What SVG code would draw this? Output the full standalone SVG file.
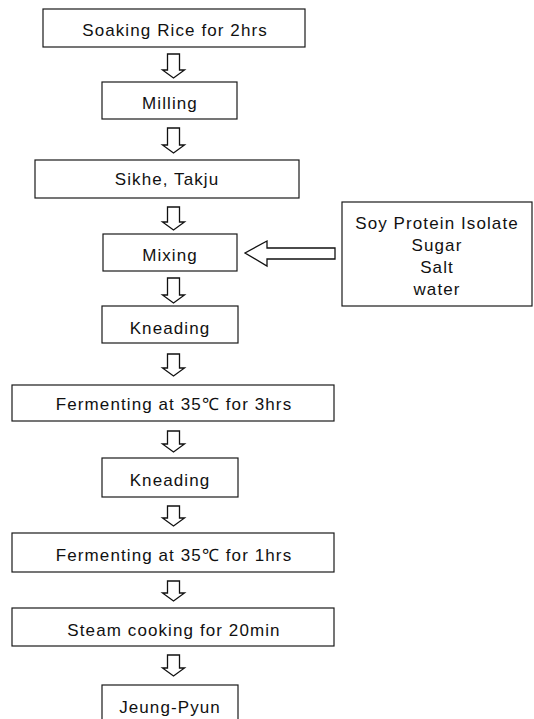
<svg xmlns="http://www.w3.org/2000/svg" width="534" height="719" viewBox="0 0 534 719">
<style>
.box{fill:#fff;stroke:#1a1a1a;stroke-width:1.2}
.t{font-family:"Liberation Sans",Arial,sans-serif;font-size:17px;letter-spacing:1.1px;fill:#111;text-anchor:middle}
.arr{fill:#fff;stroke:#111;stroke-width:1.3;stroke-linejoin:miter}
</style>
<rect width="534" height="719" fill="#fff"/>
<g id="connectors">
<path class="arr" d="M167.5,54H179.5V70H184.5L173.5,78L162.5,70H167.5Z"/>
<path class="arr" d="M167.5,128H179.5V145H184.5L173.5,153L162.5,145H167.5Z"/>
<path class="arr" d="M167.5,207H179.5V222H184.5L173.5,230L162.5,222H167.5Z"/>
<path class="arr" d="M167.5,278H179.5V295H184.5L173.5,303L162.5,295H167.5Z"/>
<path class="arr" d="M167.5,354H179.5V368H184.5L173.5,376L162.5,368H167.5Z"/>
<path class="arr" d="M167.5,431H179.5V444H184.5L173.5,452L162.5,444H167.5Z"/>
<path class="arr" d="M167.5,506H179.5V518H184.5L173.5,526L162.5,518H167.5Z"/>
<path class="arr" d="M167.5,581H179.5V593H184.5L173.5,601L162.5,593H167.5Z"/>
<path class="arr" d="M167.5,655H179.5V668H184.5L173.5,676L162.5,668H167.5Z"/>
<path class="arr" d="M335,248V259H267V266L245,253L267,241V248Z"/>
</g>
<g id="soaking"><rect class="box" x="43" y="9" width="262" height="38"/><text class="t" x="175" y="36">Soaking Rice for 2hrs</text></g>
<g id="milling"><rect class="box" x="102" y="82" width="135" height="37"/><text class="t" x="170" y="109">Milling</text></g>
<g id="sikhe"><rect class="box" x="35" y="160" width="264" height="38"/><text class="t" x="167" y="185">Sikhe, Takju</text></g>
<g id="mixing"><rect class="box" x="103" y="234" width="134" height="37"/><text class="t" x="170" y="261">Mixing</text></g>
<g id="ingredients"><rect class="box" x="342" y="202" width="190" height="104"/>
<text class="t" x="437" y="229">Soy Protein Isolate</text>
<text class="t" x="437" y="251">Sugar</text>
<text class="t" x="437" y="273">Salt</text>
<text class="t" x="437" y="295">water</text></g>
<g id="kneading1"><rect class="box" x="102" y="306" width="136" height="37"/><text class="t" x="170" y="334">Kneading</text></g>
<g id="fermenting3"><rect class="box" x="12" y="385" width="322" height="36"/><text class="t" x="174" y="410">Fermenting at 35℃ for 3hrs</text></g>
<g id="kneading2"><rect class="box" x="102" y="458" width="136" height="39"/><text class="t" x="170" y="486">Kneading</text></g>
<g id="fermenting1"><rect class="box" x="12" y="533" width="322" height="39"/><text class="t" x="174" y="561">Fermenting at 35℃ for 1hrs</text></g>
<g id="steam"><rect class="box" x="12" y="608" width="322" height="38"/><text class="t" x="174" y="636">Steam cooking for 20min</text></g>
<g id="jeungpyun"><rect class="box" x="102" y="685" width="136" height="40"/><text class="t" x="170" y="713">Jeung-Pyun</text></g>
</svg>
